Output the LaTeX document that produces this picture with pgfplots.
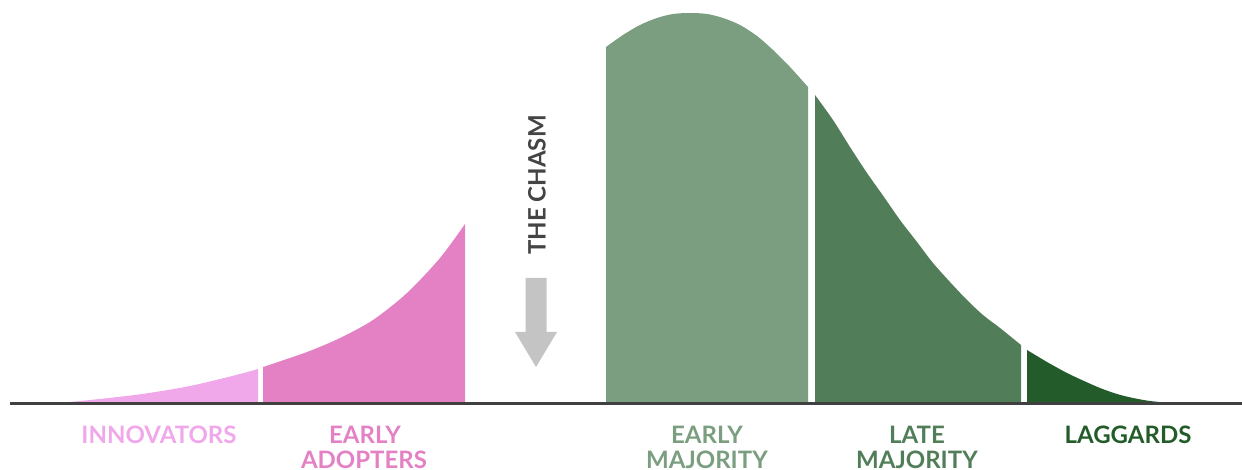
\documentclass[border=0pt]{standalone}
\usepackage{pgfplots}
\pgfplotsset{compat=1.18}
\usepackage{fontspec}
\setmainfont{Lato}[BoldFont={Lato Bold}]
\definecolor{innov}{HTML}{F0A8EB}
\definecolor{adopt}{HTML}{E481C5}
\definecolor{emaj}{HTML}{7A9E7F}
\definecolor{lmaj}{HTML}{517E59}
\definecolor{lagg}{HTML}{235C2A}
\definecolor{chasm}{HTML}{444444}
\definecolor{arrowgray}{HTML}{C4C4C4}
\definecolor{basecol}{HTML}{404040}
\tikzset{lbl/.style={font=\fontsize{24}{24}\selectfont\bfseries, inner sep=0pt}}
\begin{document}
\begin{tikzpicture}
\useasboundingbox (0,0) rectangle (1242pt,470pt);
\clip (0,0) rectangle (1242pt,470pt);
\begin{axis}[
  at={(0,0)}, anchor=south west,
  width=1242pt, height=470pt, scale only axis,
  xmin=0, xmax=1242, ymin=-67, ymax=403,
  hide axis, clip=false,
]
% Innovators
\addplot[fill=innov, draw=none, smooth] coordinates {
  (58,0) (90,3) (140,8.7) (190,17) (240,29) (258,34)
} \closedcycle;
% Early adopters
\addplot[fill=adopt, draw=none, smooth] coordinates {
  (263,36) (307,51) (340,65) (373,83) (407,110) (440,145) (465,179)
} \closedcycle;
% Early majority
\addplot[fill=emaj, draw=none, smooth] coordinates {
  (606,356) (623,368) (640,378) (657,385) (673,389) (690,390) (707,389) (723,385) (740,378) (757,367) (773,353) (790,336) (808,316)
} \closedcycle;
% Late majority
\addplot[fill=lmaj, draw=none, smooth] coordinates {
  (815,308) (833,283) (850,256) (867,230) (884,206) (900,183) (917,161) (933,140) (950,121) (967,103) (983,88) (1000,75) (1021,58)
} \closedcycle;
% Laggards
\addplot[fill=lagg, draw=none, smooth] coordinates {
  (1027,53) (1047,41) (1067,30) (1084,22) (1100,15) (1117,9) (1133,5) (1150,2) (1170,0)
} \closedcycle;
% baseline
\addplot[basecol, line width=3pt] coordinates {(10,-0.3) (1242,-0.3)};
% arrow
\fill[arrowgray] (axis cs:525.5,125) -- (axis cs:546.5,125) -- (axis cs:546.5,71) -- (axis cs:557,71) -- (axis cs:536,36) -- (axis cs:515,71) -- (axis cs:525.5,71) -- cycle;
\node[lbl, rotate=90, text=chasm] at (axis cs:537,218) {THE CHASM};
% labels
\node[lbl, anchor=base, text=innov] at (axis cs:159,-40.3) {INNOVATORS};
\node[lbl, anchor=base, text=adopt] at (axis cs:365,-40.3) {EARLY};
\node[lbl, anchor=base, text=adopt] at (axis cs:364,-66) {ADOPTERS};
\node[lbl, anchor=base, text=emaj] at (axis cs:707,-40.3) {EARLY};
\node[lbl, anchor=base, text=emaj] at (axis cs:707,-66) {MAJORITY};
\node[lbl, anchor=base, text=lmaj] at (axis cs:917,-40.3) {LATE};
\node[lbl, anchor=base, text=lmaj] at (axis cs:917,-66) {MAJORITY};
\node[lbl, anchor=base, text=lagg] at (axis cs:1128,-40.3) {LAGGARDS};
\end{axis}
\end{tikzpicture}
\end{document}
